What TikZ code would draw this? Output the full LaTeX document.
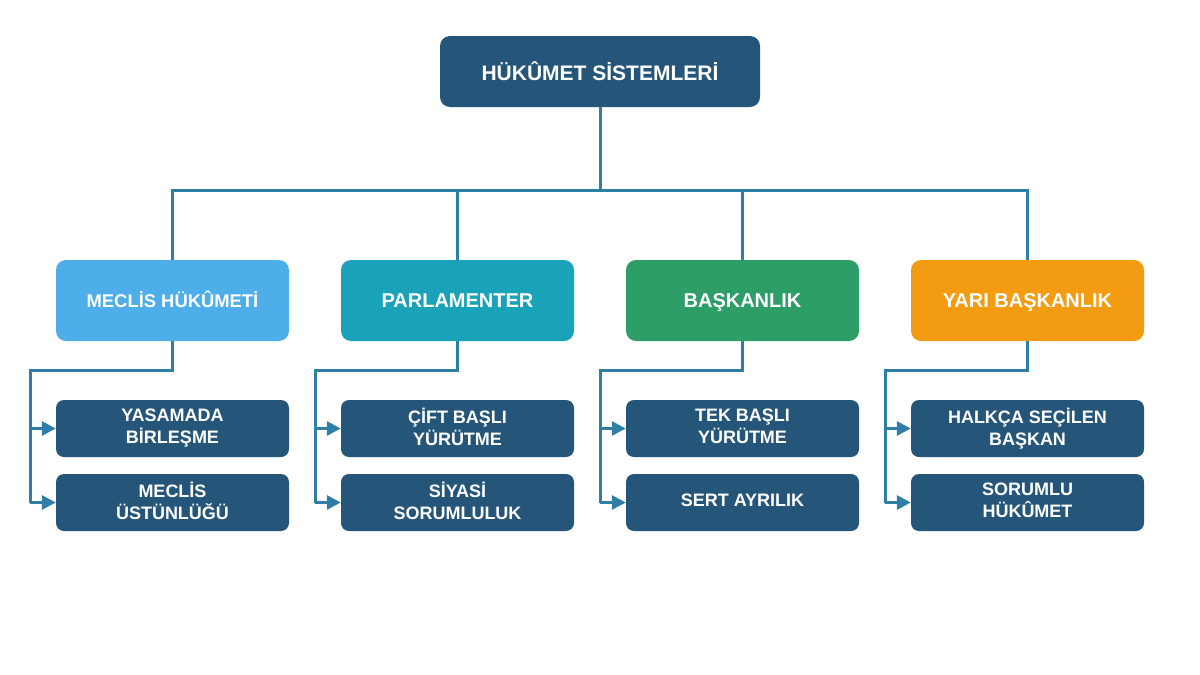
\documentclass[tikz,border=0pt]{standalone}
\usepackage{fontspec}
\setmainfont{Liberation Sans}
\usetikzlibrary{arrows.meta}
\definecolor{navy}{HTML}{25567A}
\definecolor{lblue}{HTML}{4DAEEA}
\definecolor{teal}{HTML}{1AA2B8}
\definecolor{grn}{HTML}{2E9E68}
\definecolor{org}{HTML}{F39C12}
\definecolor{wire}{HTML}{2E7EA6}
\newcommand{\leafstrut}{\rule[-4pt]{0pt}{16.9pt}}
\tikzset{
  topbox/.style={fill=navy, rounded corners=10pt, minimum width=320pt, minimum height=71pt, text=white, font=\bfseries\fontsize{21}{25}\selectfont},
  catbox/.style={rounded corners=10pt, minimum width=233pt, minimum height=81pt, text=white, text height=14.3pt, text depth=0pt, font=\bfseries\fontsize{20}{24}\selectfont},
  leafbox/.style={fill=navy, rounded corners=8pt, minimum width=233pt, minimum height=57pt, text=white, align=center, font=\bfseries\fontsize{18}{22}\selectfont, execute at begin node={\leafstrut}, execute at end node={\leafstrut}},
  wireline/.style={draw=wire, line width=3pt},
  arr/.style={wireline, -{Triangle[length=14pt,width=14pt]}}
}
\begin{document}
\begin{tikzpicture}[x=1pt,y=-1pt]
\useasboundingbox (0,0) rectangle (1200,675);
\node[topbox] (top) at (600,71.5) {HÜKÛMET SİSTEMLERİ};
\node[catbox, fill=lblue, text height=13.2pt, font=\bfseries\fontsize{18.4}{22}\selectfont] (c1) at (172.5,300.5) {MECLİS HÜKÛMETİ};
\node[catbox, fill=teal] (c2) at (457.5,300.5) {PARLAMENTER};
\node[catbox, fill=grn] (c3) at (742.5,300.5) {BAŞKANLIK};
\node[catbox, fill=org] (c4) at (1027.5,300.5) {YARI BAŞKANLIK};
\node[leafbox] (a1) at (172.5,428.5) {YASAMADA\\BİRLEŞME};
\node[leafbox] (b1) at (172.5,502.5) {MECLİS\\ÜSTÜNLÜĞÜ};
\node[leafbox] (a2) at (457.5,428.5) {ÇİFT BAŞLI\\YÜRÜTME};
\node[leafbox] (b2) at (457.5,502.5) {SİYASİ\\SORUMLULUK};
\node[leafbox] (a3) at (742.5,428.5) {TEK BAŞLI\\YÜRÜTME};
\node[leafbox] (b3) at (742.5,502.5) {SERT AYRILIK};
\node[leafbox] (a4) at (1027.5,428.5) {HALKÇA SEÇİLEN\\BAŞKAN};
\node[leafbox] (b4) at (1027.5,502.5) {SORUMLU\\HÜKÛMET};
\coordinate (bus) at (600,190);
\draw[wireline] (top.south) -- (bus);
\draw[wireline] (c1.north) |- (bus) -| (c4.north);
\draw[wireline] (c2.north) -- (c2.north |- bus);
\draw[wireline] (c3.north) -- (c3.north |- bus);
\foreach \i/\x in {1/30,2/315,3/600,4/885}{
  \coordinate (k\i) at (\x,370);
  \draw[wireline] (c\i.south) |- (k\i) -- (k\i |- b\i.west);
  \draw[arr] (k\i |- a\i.west) -- (a\i.west);
  \draw[arr] (k\i |- b\i.west) -- (b\i.west);
}
\end{tikzpicture}
\end{document}
